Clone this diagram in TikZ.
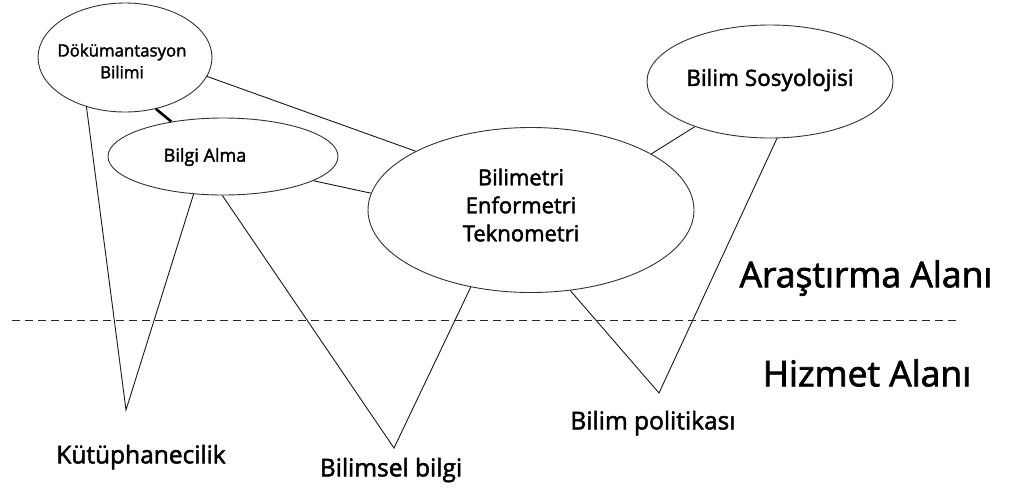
\documentclass[tikz,border=0pt]{standalone}
\usepackage{fontspec}
\setmainfont{Open Sans}[FakeBold=2]
\usetikzlibrary{shapes.geometric}
\tikzset{
  oval/.style={ellipse, draw=black!80, line width=0.9pt, inner sep=0pt},
  link/.style={draw=black!90, line width=0.9pt},
  thicklink/.style={draw=black, line width=2.6pt},
  lbl/.style={inner sep=0pt, align=center, text=black},
  fs/.style={font=\fontsize{#1}{#1}\selectfont}
}
\begin{document}
\begin{tikzpicture}[x=1pt,y=-1pt]
\useasboundingbox[fill=white] (0,0) rectangle (1010,491);

% ellipses
\node[oval, minimum width=174pt, minimum height=109pt] (dok) at (125,57.5) {};
\node[oval, minimum width=230pt, minimum height=77pt] (ba) at (223,156.5) {};
\node[oval, minimum width=326pt, minimum height=165pt] (bim) at (531,210) {};
\node[oval, minimum width=246pt, minimum height=113pt] (sos) at (770,81.5) {};

% texts in ellipses
\node[lbl, fs=16.8] (tdok) at (122,61) {Dökümantasyon\\[5pt]Bilimi};
\node[lbl, fs=18] (tba) at (205,157) {Bilgi Alma};
\node[lbl, fs=22] (tbim) at (521,205) {Bilimetri\\[6pt]Enformetri\\[6pt]Teknometri};
\node[lbl, fs=22.5] (tsos) at (770,80) {Bilim Sosyolojisi};

% V vertices
\coordinate (vk) at (126,410);
\coordinate (vb) at (394,448);
\coordinate (vp) at (659,393);

% connectors between ellipses
\draw[thicklink] (dok.-59.3) -- (ba.146.9);
\draw[link] (dok.-13.1) -- (bim.153);
\draw[link] (ba.-15.2) -- (bim.174.6);
\draw[link] (bim.25.2) -- (sos.-149.8);

% V shapes
\draw[link] (dok.-128.8) -- (vk) -- (ba.-128);
\draw[link] (ba.-91.5) -- (vb) -- (bim.-128.6);
\draw[link] (bim.-64.6) -- (vp) -- (sos.-83);

% dashed separator
\coordinate (dl) at (12,320);
\coordinate (dr) at (958,320);
\draw[black!85, line width=0.9pt, dash pattern=on 8pt off 5pt] (dl) -- (dr);

% area labels
\node[lbl, fs=35.5] (ara) at (866,278) {Araştırma Alanı};
\node[lbl, fs=35.5] (hiz) at (867,373) {Hizmet Alanı};

% bottom labels
\node[lbl, fs=24.5] (kut) at (141,457) {Kütüphanecilik};
\node[lbl, fs=24.5] (bbl) at (391,470) {Bilimsel bilgi};
\node[lbl, fs=24.5] (bpl) at (653,423) {Bilim politikası};
\end{tikzpicture}
\end{document}
